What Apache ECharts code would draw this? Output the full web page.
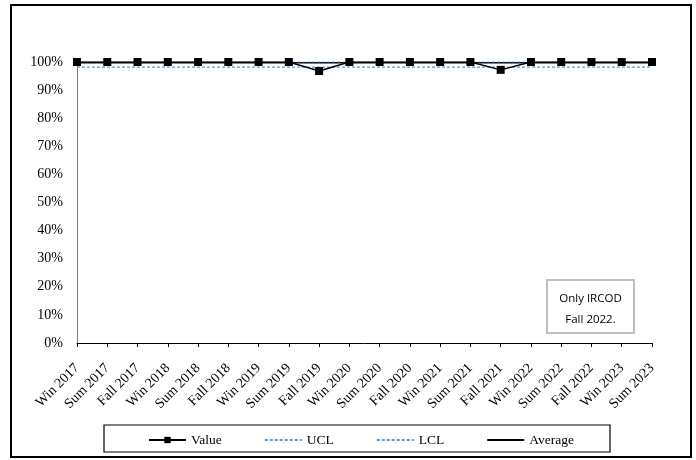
<!DOCTYPE html>
<html lang="en">
<head>
    <meta charset="UTF-8">
    <title>Control chart</title>
</head>
<body style="margin:0;background:#fff;">
<div style="width: 696px;height: 460px;" id="chart"></div>
<script src="https://cdnjs.cloudflare.com/ajax/libs/echarts/6.0.0/echarts.min.js"></script>
<script type="text/javascript">
  // semesters on the x axis
  const terms = [
    'Win 2017', 'Sum 2017', 'Fall 2017',
    'Win 2018', 'Sum 2018', 'Fall 2018',
    'Win 2019', 'Sum 2019', 'Fall 2019',
    'Win 2020', 'Sum 2020', 'Fall 2020',
    'Win 2021', 'Sum 2021', 'Fall 2021',
    'Win 2022', 'Sum 2022', 'Fall 2022',
    'Win 2023', 'Sum 2023'];

  // percent values
  const valueData = [100, 100, 100, 100, 100, 100, 100, 100, 96.8, 100,
    100, 100, 100, 100, 97.2, 100, 100, 100, 100, 100];
  const uclData = [100, 100, 100, 100, 100, 100, 100, 100, 100, 100,
    100, 100, 100, 100, 100, 100, 100, 100, 100, 100];
  const lclData = [98.2, 98.2, 98.2, 98.2, 98.2, 98.2, 98.2, 98.2, 98.2, 98.2,
    98.2, 98.2, 98.2, 98.2, 98.2, 98.2, 98.2, 98.2, 98.2, 98.2];
  const avgData = [99.7, 99.7, 99.7, 99.7, 99.7, 99.7, 99.7, 99.7, 99.7, 99.7,
    99.7, 99.7, 99.7, 99.7, 99.7, 99.7, 99.7, 99.7, 99.7, 99.7];

  const noteLines = ['Only IRCOD', 'Fall 2022.'];

  const serif = 'Liberation Serif';
  const blue = '#5b9bd5';

  // line-only legend entries: hide the symbol, keep the stroke
  const plainLine = (name, color) => ({
    name: name,
    itemStyle: {opacity: 0},
    lineStyle: color ? {color: color} : undefined,
  });

  const option = {
    animation: false,
    backgroundColor: '#fff',
    grid: {
      left: 77, right: 44, top: 62, bottom: 117,
    },
    xAxis: {
      type: 'category',
      data: terms,
      boundaryGap: false,
      axisLine: {lineStyle: {color: '#000', width: 1}},
      axisTick: {show: true, length: 4, lineStyle: {color: '#000'}},
      axisLabel: {
        rotate: 45, margin: 23, interval: 0,
        fontFamily: serif, fontSize: 14, color: '#000',
      },
      splitLine: {show: false},
    },
    yAxis: {
      type: 'value',
      min: 0, max: 100, interval: 10,
      axisLine: {show: true, lineStyle: {color: '#7f7f7f', width: 1}},
      axisTick: {show: false},
      axisLabel: {
        formatter: '{value}%', margin: 14,
        fontFamily: serif, fontSize: 14, color: '#000',
      },
      splitLine: {show: false},
    },
    legend: {
      left: 148, top: 433, padding: 0,
      itemWidth: 37, itemHeight: 8, itemGap: 42,
      textStyle: {fontFamily: serif, fontSize: 13.5, color: '#000'},
      data: ['Value', plainLine('UCL', blue), plainLine('LCL', blue), plainLine('Average')],
    },
    series: [
      {
        name: 'Value', type: 'line', data: valueData, z: 5,
        symbol: 'rect', symbolSize: 8,
        itemStyle: {color: '#000'},
        lineStyle: {color: '#000', width: 1.5},
      }, {
        name: 'UCL', type: 'line', data: uclData, z: 4,
        symbol: 'none',
        itemStyle: {color: blue},
        lineStyle: {color: '#2f6fae', width: 1.2, type: [3, 2]},
      }, {
        name: 'LCL', type: 'line', data: lclData, z: 3,
        symbol: 'none',
        itemStyle: {color: blue},
        lineStyle: {color: blue, width: 1.2, type: [3, 2]},
      }, {
        name: 'Average', type: 'line', data: avgData, z: 2,
        symbol: 'none',
        itemStyle: {color: '#000'},
        lineStyle: {color: '#000', width: 1.5},
      }],
    graphic: [
      {
        type: 'rect', silent: true, z: 0,
        shape: {x: 11, y: 5, width: 680, height: 452},
        style: {fill: 'none', stroke: '#000', lineWidth: 2},
      }, {
        type: 'rect', silent: true, z: 0,
        shape: {x: 104, y: 425, width: 506, height: 27},
        style: {fill: 'none', stroke: '#000', lineWidth: 1.2},
      }, {
        type: 'rect', silent: true, z: 10,
        shape: {x: 547, y: 280, width: 87, height: 53},
        style: {fill: '#fff', stroke: '#bfbfbf', lineWidth: 2},
      }, {
        type: 'text', silent: true, z: 11,
        x: 590.5, y: 309,
        style: {
          text: noteLines.join('\n'),
          fontFamily: 'Open Sans', fontSize: 11.5, lineHeight: 21,
          fill: '#000', align: 'center', verticalAlign: 'middle',
        },
      }],
  };

  const chart = echarts.init(document.getElementById('chart'));
  chart.setOption(option);
</script>
</body>
</html>
